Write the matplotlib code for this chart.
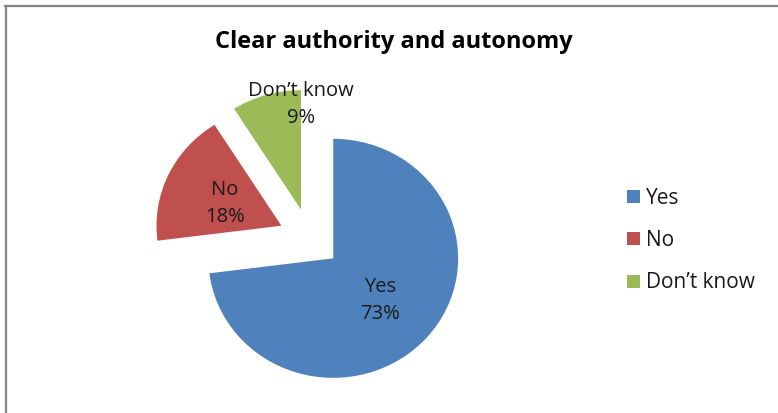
import matplotlib
matplotlib.use("Agg")
import matplotlib.pyplot as plt
from matplotlib.patches import Patch
from matplotlib.lines import Line2D
import numpy as np

categories = ["Yes", "No", "Don\u2019t know"]
values = [73, 18, 9]
colors = ["#4F81BD", "#C0504D", "#9BBB59"]
title = "Clear authority and autonomy"

W, H = 778, 413
SX = 1.045  # horizontal stretch of the plot area

plt.rcParams["font.family"] = ["Open Sans", "DejaVu Sans"]

fig = plt.figure(figsize=(W / 100, H / 100), dpi=100)
ax = fig.add_axes([0, 0, 1, 1])

radius = 119.5
center = (296.4, H - 238.5)
wedges, _ = ax.pie(values, colors=colors, startangle=90, counterclock=False,
                   explode=[30] * len(values), radius=radius, center=center,
                   wedgeprops=dict(linewidth=0))
ax.set_aspect("auto")
ax.set_xlim(0, W / SX)
ax.set_ylim(0, H)
ax.axis("off")

total = sum(values)
for i, (w, cat, v) in enumerate(zip(wedges, categories, values)):
    cx, cy = w.center
    r = w.r
    theta = np.deg2rad((w.theta1 + w.theta2) / 2)
    if i == 2:
        # the small slice carries its label above the wedge
        tx, ty = cx, cy + 0.88 * r
    else:
        tx = cx + 0.5 * r * np.cos(theta)
        ty = cy + 0.5 * r * np.sin(theta) - 3
    ax.text(tx, ty, f"{cat}\n{round(100 * v / total)}%", ha="center", va="center",
            fontsize=14.5, color="#1a1a1a", linespacing=1.45)

fig.text(394 / W, 1 - 42 / H, title, ha="center", va="center",
         fontsize=17, fontweight="bold", color="#000000")

handles = [Patch(facecolor=c, edgecolor="none") for c in colors]
fig.legend(handles, categories, loc="center left",
           bbox_to_anchor=(617 / W, 1 - 240.5 / H), bbox_transform=fig.transFigure,
           frameon=False, fontsize=15, borderpad=0, labelspacing=1.03,
           handlelength=0.58, handleheight=0.58, handletextpad=0.3,
           labelcolor="#1a1a1a")

# chart border (only top and left edges fall inside the image)
border = "#868686"
fig.add_artist(Line2D([5 / W, 1], [1 - 5.5 / H, 1 - 5.5 / H], color=border,
                      linewidth=1.6, transform=fig.transFigure))
fig.add_artist(Line2D([5.5 / W, 5.5 / W], [0, 1 - 5.5 / H], color=border,
                      linewidth=1.6, transform=fig.transFigure))

fig.savefig("out.png", dpi=100)
